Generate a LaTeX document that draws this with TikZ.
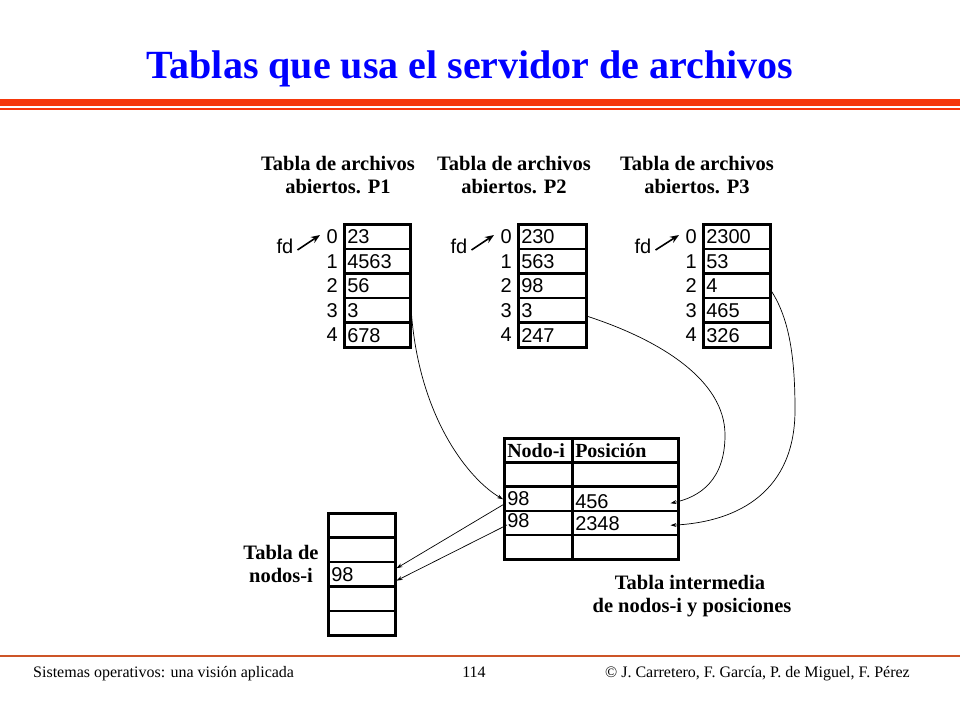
\documentclass[tikz,border=0pt]{standalone}
\usepackage{fontspec}
\setmainfont{Liberation Serif}
\newfontfamily\arialf{Liberation Sans}
\usetikzlibrary{arrows.meta}
\definecolor{titleblue}{RGB}{0,0,255}
\definecolor{barred}{RGB}{245,55,10}
\definecolor{footline}{RGB}{205,85,40}
\tikzset{
  cellbox/.style={draw, line width=2.5pt, inner xsep=3pt, inner ysep=0pt,
    minimum height=#1, text height=14.3pt, text depth=0pt,
    anchor=north west, align=left, font=\arialf\fontsize{20}{20}\selectfont},
  idxlab/.style={anchor=east, inner sep=0pt, font=\arialf\fontsize{20}{20}\selectfont},
  fdlab/.style={inner sep=0pt, font=\arialf\fontsize{20}{20}\selectfont},
  headlab/.style={anchor=base, inner sep=0pt, font=\fontsize{20.5}{20}\selectfont\bfseries},
  footlab/.style={inner sep=0pt, font=\fontsize{16}{16}\selectfont},
  fdarrow/.style={line width=1.6pt, -{Stealth[length=9pt,width=7pt]}},
  link/.style={line width=0.7pt, -{Stealth[length=6pt,width=4pt]}}
}
\begin{document}
\begin{tikzpicture}[x=1pt,y=-1pt]
\useasboundingbox (0,0) rectangle (960,720);
% title and bars
\node[anchor=base, inner sep=0pt, text=titleblue, font=\fontsize{40}{40}\selectfont\bfseries] (title) at (470,78) {Tablas que usa el servidor de archivos};
\coordinate (barA) at (0,102);
\coordinate (barB) at (960,102);
\draw[barred, line width=7pt] (barA) -- (barB);
\coordinate (barC) at (0,109);
\coordinate (barD) at (960,109);
\draw[barred, line width=2pt] (barC) -- (barD);
% headers
\node[headlab] (h1a) at (338,170) {Tabla de archivos};
\node[headlab] (h1b) at (338,193) {abiertos. P1};
\node[headlab] (h2a) at (514,170) {Tabla de archivos};
\node[headlab] (h2b) at (514,193) {abiertos. P2};
\node[headlab] (h3a) at (697,170) {Tabla de archivos};
\node[headlab] (h3b) at (697,193) {abiertos. P3};
% P1
\foreach \v [count=\i from 0] in {23,4563,56,3,678}{
  \node[cellbox=24.6pt, text width=60pt] (pa\i) at (343,{223+\i*24.6}) {\v};
  \node[idxlab] (ia\i) at ([xshift=-5pt]pa\i.west) {\i};
}
\foreach \v [count=\i from 0] in {230,563,98,3,247}{
  \node[cellbox=24.6pt, text width=62pt] (pb\i) at (517,{223+\i*24.6}) {\v};
  \node[idxlab] (ib\i) at ([xshift=-5pt]pb\i.west) {\i};
}
\foreach \v [count=\i from 0] in {2300,53,4,465,326}{
  \node[cellbox=24.6pt, text width=61pt] (pc\i) at (702,{223+\i*24.6}) {\v};
  \node[idxlab] (ic\i) at ([xshift=-5pt]pc\i.west) {\i};
}
% fd labels
\node[fdlab] (fda) at (285,246) {fd};
\node[fdlab] (fdb) at (459,246) {fd};
\node[fdlab] (fdc) at (643,246) {fd};
\coordinate (fdaE) at (320,235);
\coordinate (fdbE) at (494,235);
\coordinate (fdcE) at (679,235);
\draw[fdarrow] ([xshift=4pt,yshift=-4pt]fda.east) -- (fdaE);
\draw[fdarrow] ([xshift=4pt,yshift=-4pt]fdb.east) -- (fdbE);
\draw[fdarrow] ([xshift=4pt,yshift=-4pt]fdc.east) -- (fdcE);
% intermediate table
\node[cellbox=24.2pt, text width=62pt, font=\fontsize{20}{20}\selectfont\bfseries] (ml0) at (503,437) {Nodo-i};
\node[cellbox=24.2pt, text width=100pt, font=\fontsize{20}{20}\selectfont\bfseries] (mr0) at (571,437) {Posición};
\node[cellbox=24.2pt, text width=62pt] (ml1) at (503,461.2) {};
\node[cellbox=24.2pt, text width=100pt] (mr1) at (571,461.2) {};
\node[cellbox=24.2pt, text width=62pt] (ml2) at (503,485.4) {98};
\node[cellbox=24.2pt, text width=100pt] (mr2) at (571,485.4) {\raisebox{-3pt}{456}};
\node[cellbox=24.2pt, text width=62pt] (ml3) at (503,509.6) {\raisebox{3pt}{98}};
\node[cellbox=24.2pt, text width=100pt] (mr3) at (571,509.6) {2348};
\node[cellbox=24.2pt, text width=62pt] (ml4) at (503,533.8) {};
\node[cellbox=24.2pt, text width=100pt] (mr4) at (571,533.8) {};
% nodos-i table
\foreach \v [count=\i from 0] in {{},{},98,{},{}}{
  \node[cellbox=24.4pt, text width=61pt] (ni\i) at (327,{512+\i*24.4}) {\v};
}
\node[headlab] (tn1) at (281,559) {Tabla de};
\node[headlab] (tn2) at (281,582) {nodos-i};
\node[headlab] (ti1) at (690,589) {Tabla intermedia};
\node[headlab] (ti2) at (692,612) {de nodos-i y posiciones};
% connectors
\draw[link] ([yshift=-4pt]pa3.east) .. controls (420,420) and (470,480) .. ([yshift=-0.5pt]ml2.west);
\draw[link] ([yshift=-6pt]pb3.east) .. controls (660,340) and (725,380) .. (725,435) .. controls (725,480) and (700,497) .. ([xshift=-9pt,yshift=-4.5pt]mr2.east);
\draw[link] ([yshift=-5.5pt]pc2.east) .. controls (790,320) and (795,360) .. (795,410) .. controls (795,490) and (740,522) .. ([xshift=-9pt,yshift=-2.3pt]mr3.east);
\draw[link] ([yshift=-6pt]ml2.west) -- ([yshift=6pt]ni2.east);
\draw[link] ([xshift=4pt,yshift=-2pt]ml3.west) -- ([yshift=-6.4pt]ni2.east);
% footer
\coordinate (fl1) at (0,656);
\coordinate (fl2) at (960,656);
\draw[footline, line width=1.3pt] (fl1) -- (fl2);
\node[footlab, anchor=base west] (f1) at (33,677) {Sistemas operativos: una visión aplicada};
\node[footlab, anchor=base] (f2) at (474,677) {114};
\node[footlab, anchor=base east] (f3) at (910,677) {© J. Carretero, F. García, P. de Miguel, F. Pérez};
\end{tikzpicture}
\end{document}
